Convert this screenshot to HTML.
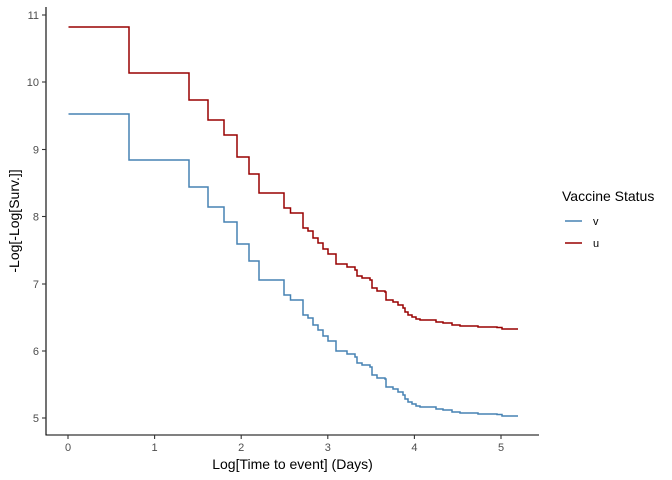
<!DOCTYPE html>
<html><head><meta charset="utf-8"><style>
body{margin:0;background:#fff}
svg{display:block;font-family:"Liberation Sans",sans-serif}
</style></head><body>
<svg width="672" height="480" viewBox="0 0 672 480">
<defs>
<path id="cur" fill="none" d="M68.5,27 H129 V73 H189 V100 H208 V120 H224 V135 H237 V157 H249 V174 H259 V193 H284 V208 H290.5 V213 H303 V228 H308 V231 H313 V238 H318 V243 H323 V249 H328 V254 H336 V264 H347 V267 H355 V270 H357 V276 H362 V278 H370 V280 H372 V288 H377 V291 H385 V292 H386 V300 H393 V302 H398 V305 H403 V308 H405 V312 H408 V315 H412 V317 H416 V319 H420 V320 H436 V322 H443 V323 H452 V325 H460 V326 H478 V327 H497 V327.5 H502 V329 H518"/>
</defs>
<use href="#cur" stroke="#990000" stroke-width="1.5"/>
<use href="#cur" stroke="#4682b4" stroke-width="1.5" transform="translate(0,87)"/>
<g stroke="#000" stroke-width="1.1">
<line x1="46" y1="7" x2="46" y2="435.5"/>
<line x1="45.5" y1="435" x2="539" y2="435"/>
</g>
<g stroke="#333" stroke-width="1.1">
<line x1="42" y1="15" x2="46" y2="15"/><line x1="42" y1="82" x2="46" y2="82"/>
<line x1="42" y1="149.5" x2="46" y2="149.5"/><line x1="42" y1="216.5" x2="46" y2="216.5"/>
<line x1="42" y1="284" x2="46" y2="284"/><line x1="42" y1="351" x2="46" y2="351"/>
<line x1="42" y1="418" x2="46" y2="418"/>
<line x1="68" y1="435" x2="68" y2="439"/><line x1="154.6" y1="435" x2="154.6" y2="439"/>
<line x1="241.2" y1="435" x2="241.2" y2="439"/><line x1="327.8" y1="435" x2="327.8" y2="439"/>
<line x1="414.4" y1="435" x2="414.4" y2="439"/><line x1="501" y1="435" x2="501" y2="439"/>
</g>
<g fill="#4d4d4d" font-size="11" text-anchor="end">
<text x="39" y="19">11</text><text x="39" y="86">10</text><text x="39" y="153.5">9</text>
<text x="39" y="220.5">8</text><text x="39" y="288">7</text><text x="39" y="355">6</text><text x="39" y="422">5</text>
</g>
<g fill="#4d4d4d" font-size="11" text-anchor="middle">
<text x="68" y="451">0</text><text x="154.6" y="451">1</text><text x="241.2" y="451">2</text>
<text x="327.8" y="451">3</text><text x="414.4" y="451">4</text><text x="501" y="451">5</text>
</g>
<text x="292.5" y="469" font-size="14" text-anchor="middle">Log[Time to event] (Days)</text>
<text transform="translate(19,221) rotate(-90)" font-size="14" text-anchor="middle">-Log[-Log[Surv.]]</text>
<text x="562" y="201" font-size="14">Vaccine Status</text>
<line x1="565" y1="221" x2="582" y2="221" stroke="#4682b4" stroke-width="1.5"/>
<line x1="565" y1="243" x2="582" y2="243" stroke="#990000" stroke-width="1.5"/>
<text x="593" y="225" font-size="11">v</text>
<text x="593" y="247" font-size="11">u</text>
</svg>
</body></html>
